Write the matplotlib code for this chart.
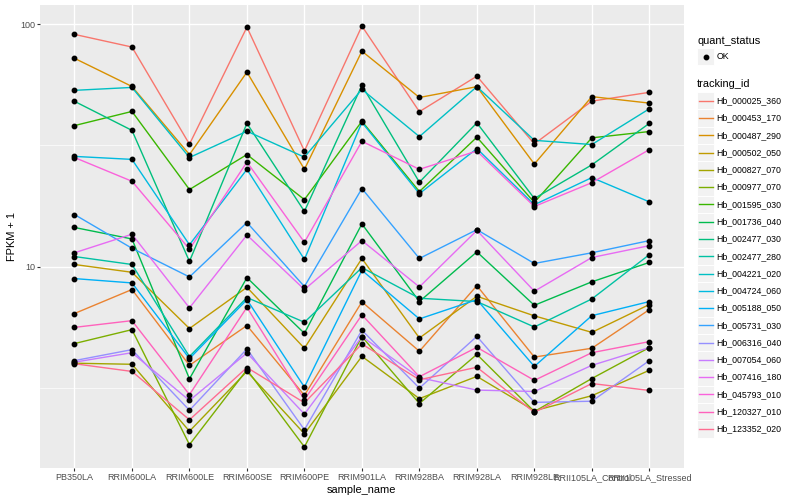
import numpy as np
import matplotlib.pyplot as plt
from matplotlib.lines import Line2D
from matplotlib.patches import Rectangle
from matplotlib.ticker import FixedLocator, NullFormatter

plt.rcParams['font.family'] = ['Liberation Sans', 'DejaVu Sans']

# samples on the x axis
samples = ['PB350LA', 'RRIM600LA', 'RRIM600LE', 'RRIM600SE', 'RRIM600PE', 'RRIM901LA',
           'RRIM928BA', 'RRIM928LA', 'RRIM928LE', 'RRII105LA_Control', 'RRII105LA_Stressed']

tracking_ids = ['Hb_000025_360', 'Hb_000453_170', 'Hb_000487_290', 'Hb_000502_050',
                'Hb_000827_070', 'Hb_000977_070', 'Hb_001595_030', 'Hb_001736_040',
                'Hb_002477_030', 'Hb_002477_280', 'Hb_004221_020', 'Hb_004724_060',
                'Hb_005188_050', 'Hb_005731_030', 'Hb_006316_040', 'Hb_007054_060',
                'Hb_007416_180', 'Hb_045793_010', 'Hb_120327_010', 'Hb_123352_020']

# ggplot default hue palette for 20 levels
colours = ['#F8766D', '#EA8331', '#D89000', '#C09B00', '#A3A500', '#7CAE00', '#39B600',
           '#00BB4E', '#00BF7D', '#00C1A3', '#00BFC4', '#00BAE0', '#00B0F6', '#35A2FF',
           '#9590FF', '#C77CFF', '#E76BF3', '#FA62DB', '#FF62BC', '#FF6C91']

# FPKM + 1, one value per sample
hb_000025_360 = [90.9, 80.6, 32.0, 97.4, 30.0, 98.4, 43.6, 61.1, 32.1, 48.2, 52.4]
hb_000453_170 = [6.40, 8.04, 3.91, 5.71, 2.94, 7.15, 4.47, 8.34, 4.23, 4.60, 6.64]
hb_000487_290 = [72.4, 55.4, 29.0, 63.5, 25.2, 77.5, 49.9, 55.3, 26.5, 50.3, 47.3]
hb_000502_050 = [10.2, 9.47, 5.55, 8.21, 4.60, 10.8, 5.07, 7.54, 6.26, 5.35, 6.97]
hb_000827_070 = [3.99, 3.95, 2.09, 3.69, 2.04, 4.26, 2.85, 3.52, 2.54, 2.93, 3.73]
hb_000977_070 = [4.81, 5.49, 1.84, 3.75, 1.80, 5.14, 2.72, 4.34, 2.52, 3.45, 4.63]
hb_001595_030 = [38.2, 43.7, 20.8, 29.0, 18.9, 39.8, 20.4, 34.2, 18.4, 34.0, 36.1]
hb_001736_040 = [14.5, 13.0, 3.44, 9.0, 5.30, 15.0, 7.17, 11.5, 6.92, 8.65, 10.4]
hb_002477_030 = [48.1, 36.5, 10.5, 39.0, 16.9, 56.0, 22.3, 39.2, 19.1, 26.3, 39.0]
hb_002477_280 = [11.0, 10.2, 4.25, 7.45, 5.89, 9.9, 7.40, 7.17, 5.63, 7.35, 11.2]
hb_004221_020 = [53.4, 54.9, 28.2, 36.2, 28.3, 53.9, 34.4, 55.3, 33.2, 31.9, 44.8]
hb_004724_060 = [28.5, 27.7, 12.3, 25.2, 10.7, 39.4, 20.0, 30.7, 18.0, 23.3, 18.5]
hb_005188_050 = [8.92, 8.56, 4.17, 7.30, 3.18, 9.65, 6.08, 7.30, 3.87, 6.27, 7.17]
hb_005731_030 = [16.4, 11.9, 9.06, 15.2, 8.27, 21.0, 10.8, 14.2, 10.3, 11.4, 12.8]
hb_006316_040 = [4.09, 4.54, 2.55, 4.57, 2.12, 5.46, 3.15, 5.15, 2.75, 2.78, 4.09]
hb_007054_060 = [4.03, 4.41, 2.80, 4.40, 2.46, 5.14, 3.48, 3.09, 3.05, 3.91, 4.63]
hb_007416_180 = [11.4, 13.6, 6.75, 13.5, 8.04, 12.8, 8.24, 14.1, 7.91, 10.9, 12.2]
hb_045793_010 = [28.2, 22.5, 11.8, 27.0, 12.6, 32.9, 25.2, 30.0, 17.7, 22.2, 30.4]
hb_120327_010 = [5.61, 5.98, 2.96, 6.79, 2.82, 6.32, 3.51, 4.64, 3.39, 4.41, 4.90]
hb_123352_020 = [3.97, 3.69, 2.33, 3.83, 2.74, 4.79, 3.41, 3.84, 2.50, 3.29, 3.08]

series = [hb_000025_360, hb_000453_170, hb_000487_290, hb_000502_050, hb_000827_070,
          hb_000977_070, hb_001595_030, hb_001736_040, hb_002477_030, hb_002477_280,
          hb_004221_020, hb_004724_060, hb_005188_050, hb_005731_030, hb_006316_040,
          hb_007054_060, hb_007416_180, hb_045793_010, hb_120327_010, hb_123352_020]

W, H = 800, 500


def fx(px):
    return px / W


def fy(py):
    return 1 - py / H


fig = plt.figure(figsize=(8, 5), dpi=100)
ax = fig.add_axes([fx(40), fy(468), fx(683.8) - fx(40), fy(5) - fy(468)])
ax.set_facecolor('#EBEBEB')
for s in ax.spines.values():
    s.set_visible(False)

x = np.arange(len(samples))
for vals, col in zip(series, colours):
    ax.plot(x, vals, color=col, lw=1.0, zorder=2)
for vals in series:
    ax.plot(x, vals, 'o', color='black', ms=3.2, zorder=3)

ax.set_yscale('log')
allv = np.log10(np.concatenate([np.array(v) for v in series]))
lo, hi = allv.min(), allv.max()
pad = (hi - lo) * 0.05
ax.set_ylim(10 ** (lo - pad), 10 ** (hi + pad))
ax.set_xlim(-0.6, len(samples) - 0.4)

ax.set_yticks([10, 100])
ax.set_yticklabels(['10', '100'])
ax.yaxis.set_minor_locator(FixedLocator([10 ** 0.5, 10 ** 1.5]))
ax.yaxis.set_minor_formatter(NullFormatter())
ax.set_xticks(x)
ax.set_xticklabels(samples)

ax.tick_params(which='major', length=2, width=0.8, color='#333333',
               labelcolor='#4D4D4D', labelsize=6.5, pad=1.6)
ax.tick_params(which='minor', length=0)
ax.grid(which='major', color='white', lw=1.0)
ax.grid(which='minor', axis='y', color='white', lw=0.5)
ax.set_axisbelow(True)

ax.set_xlabel('sample_name', fontsize=7.9, labelpad=2)
ax.set_ylabel('FPKM + 1', fontsize=7.9, labelpad=2)

# legend, drawn by hand in the ggplot layout
key = 17.28
fig.text(fx(697), fy(40.7), 'quant_status', fontsize=7.9, va='center', ha='left')
fig.add_artist(Rectangle((fx(697), fy(56.7 + key / 2)), key / W, key / H,
                         facecolor='#F2F2F2', edgecolor='white', lw=0.7))
fig.add_artist(Line2D([fx(697 + key / 2)], [fy(56.7)], marker='o', color='black', ms=3.2))
fig.text(fx(716.7), fy(56.7), 'OK', fontsize=6.3, va='center', ha='left')

fig.text(fx(697), fy(84), 'tracking_id', fontsize=7.9, va='center', ha='left')
for i, (name, col) in enumerate(zip(tracking_ids, colours)):
    cy = 100.7 + i * key
    fig.add_artist(Rectangle((fx(697), fy(cy + key / 2)), key / W, key / H,
                             facecolor='#F2F2F2', edgecolor='white', lw=0.7))
    fig.add_artist(Line2D([fx(698.7), fx(712.6)], [fy(cy), fy(cy)], color=col, lw=1.0))
    fig.text(fx(716.7), fy(cy), name, fontsize=6.3, va='center', ha='left')

fig.savefig('out.png', dpi=100)
